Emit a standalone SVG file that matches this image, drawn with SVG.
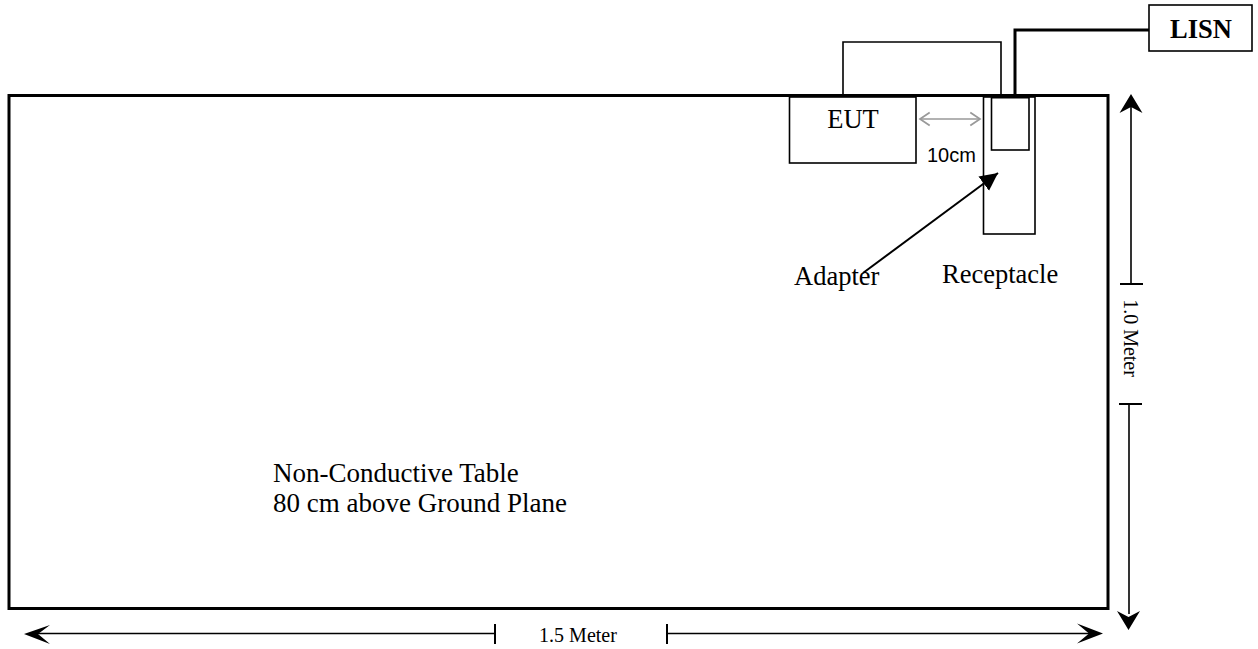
<svg xmlns="http://www.w3.org/2000/svg" width="1258" height="649" viewBox="0 0 1258 649">
<style>
.thin{fill:none;stroke:#000;stroke-width:1.6}
.thick{fill:none;stroke:#000;stroke-width:3}
.dim{fill:none;stroke:#000;stroke-width:1.6}
.tick{fill:none;stroke:#000;stroke-width:2}
.head{fill:#000;stroke:none}
.serif{font-family:"Liberation Serif","Times New Roman",serif;font-size:26.5px;fill:#000}
.big{font-family:"Liberation Serif","Times New Roman",serif;font-size:27px;fill:#000}
.small{font-family:"Liberation Serif","Times New Roman",serif;font-size:20px;fill:#000}
.sans{font-family:"Liberation Sans",Arial,sans-serif;font-size:20px;fill:#000}
</style>
<defs>
<marker id="filled" markerUnits="userSpaceOnUse" markerWidth="20" markerHeight="20" viewBox="-16 -8 18 16" refX="0" refY="0" orient="auto">
<path d="M0,0 L-16,-8 L-16,8 Z" fill="#000"/>
</marker>
<marker id="gray" markerUnits="userSpaceOnUse" markerWidth="14" markerHeight="16" viewBox="-11 -7 13 14" refX="0" refY="0" orient="auto-start-reverse">
<path d="M-9,-6 L0,0 L-9,6" fill="none" stroke="#999" stroke-width="1.6"/>
</marker>
</defs>
<rect width="1258" height="649" fill="#fff"/>

<g id="table">
<rect x="9" y="95.5" width="1099" height="513" class="thick"/>
<text class="big" x="273" y="482">Non-Conductive Table</text>
<text class="big" x="273" y="512">80 cm above Ground Plane</text>
</g>

<g id="eut">
<rect x="789.5" y="97" width="126.5" height="66" class="thin" fill="#fff"/>
<text class="serif" x="853" y="128" text-anchor="middle">EUT</text>
</g>

<g id="receptacle">
<rect x="983.5" y="97" width="51.5" height="137" class="thin"/>
<text class="serif" x="942" y="283">Receptacle</text>
</g>

<g id="adapter">
<rect x="991.5" y="97" width="37.5" height="53" class="thin"/>
<line x1="991.5" y1="97" x2="1029" y2="97" class="thick"/>
<text class="serif" x="794" y="285">Adapter</text>
</g>

<g id="lisn">
<rect x="1149" y="5" width="103" height="46" class="thin"/>
<text class="serif" x="1201" y="38" text-anchor="middle" font-weight="bold">LISN</text>
</g>

<g id="connectors">
<polyline points="843,95 843,42 1001,42 1001,95" class="thin"/>
<polyline points="1015,96 1015,30 1149,30" class="thick"/>
<line x1="920" y1="119" x2="980" y2="119" stroke="#999" stroke-width="1.6" marker-start="url(#gray)" marker-end="url(#gray)"/>
<line x1="863" y1="273" x2="998" y2="173" stroke="#000" stroke-width="2" marker-end="url(#filled)"/>
</g>

<g id="label-10cm">
<text class="sans" x="927" y="162">10cm</text>
</g>

<g id="dim-horizontal">
<line x1="36" y1="633.5" x2="495" y2="633.5" class="dim"/>
<line x1="667" y1="633.5" x2="1090" y2="633.5" class="dim"/>
<line x1="495" y1="624" x2="495" y2="644" class="tick"/>
<line x1="667" y1="624" x2="667" y2="644" class="tick"/>
<path class="head" d="M24,634 L50,625 L38,634 L50,644 Z"/>
<path class="head" d="M1103,633.5 L1077,623.5 L1089,633.5 L1077,643.5 Z"/>
<text class="small" x="578" y="642" text-anchor="middle">1.5 Meter</text>
</g>

<g id="dim-vertical">
<line x1="1131" y1="106" x2="1131" y2="284" class="dim"/>
<line x1="1129" y1="404" x2="1129" y2="614" class="dim"/>
<line x1="1120" y1="284" x2="1143" y2="284" class="tick"/>
<line x1="1119" y1="404" x2="1142" y2="404" class="tick"/>
<path class="head" d="M1131,94 L1119.5,113 L1131,107 L1142.5,113 Z"/>
<path class="head" d="M1128.5,630 L1117,611 L1128.5,617 L1140,611 Z"/>
<text class="small" transform="translate(1124,338) rotate(90)" text-anchor="middle">1.0 Meter</text>
</g>
</svg>
